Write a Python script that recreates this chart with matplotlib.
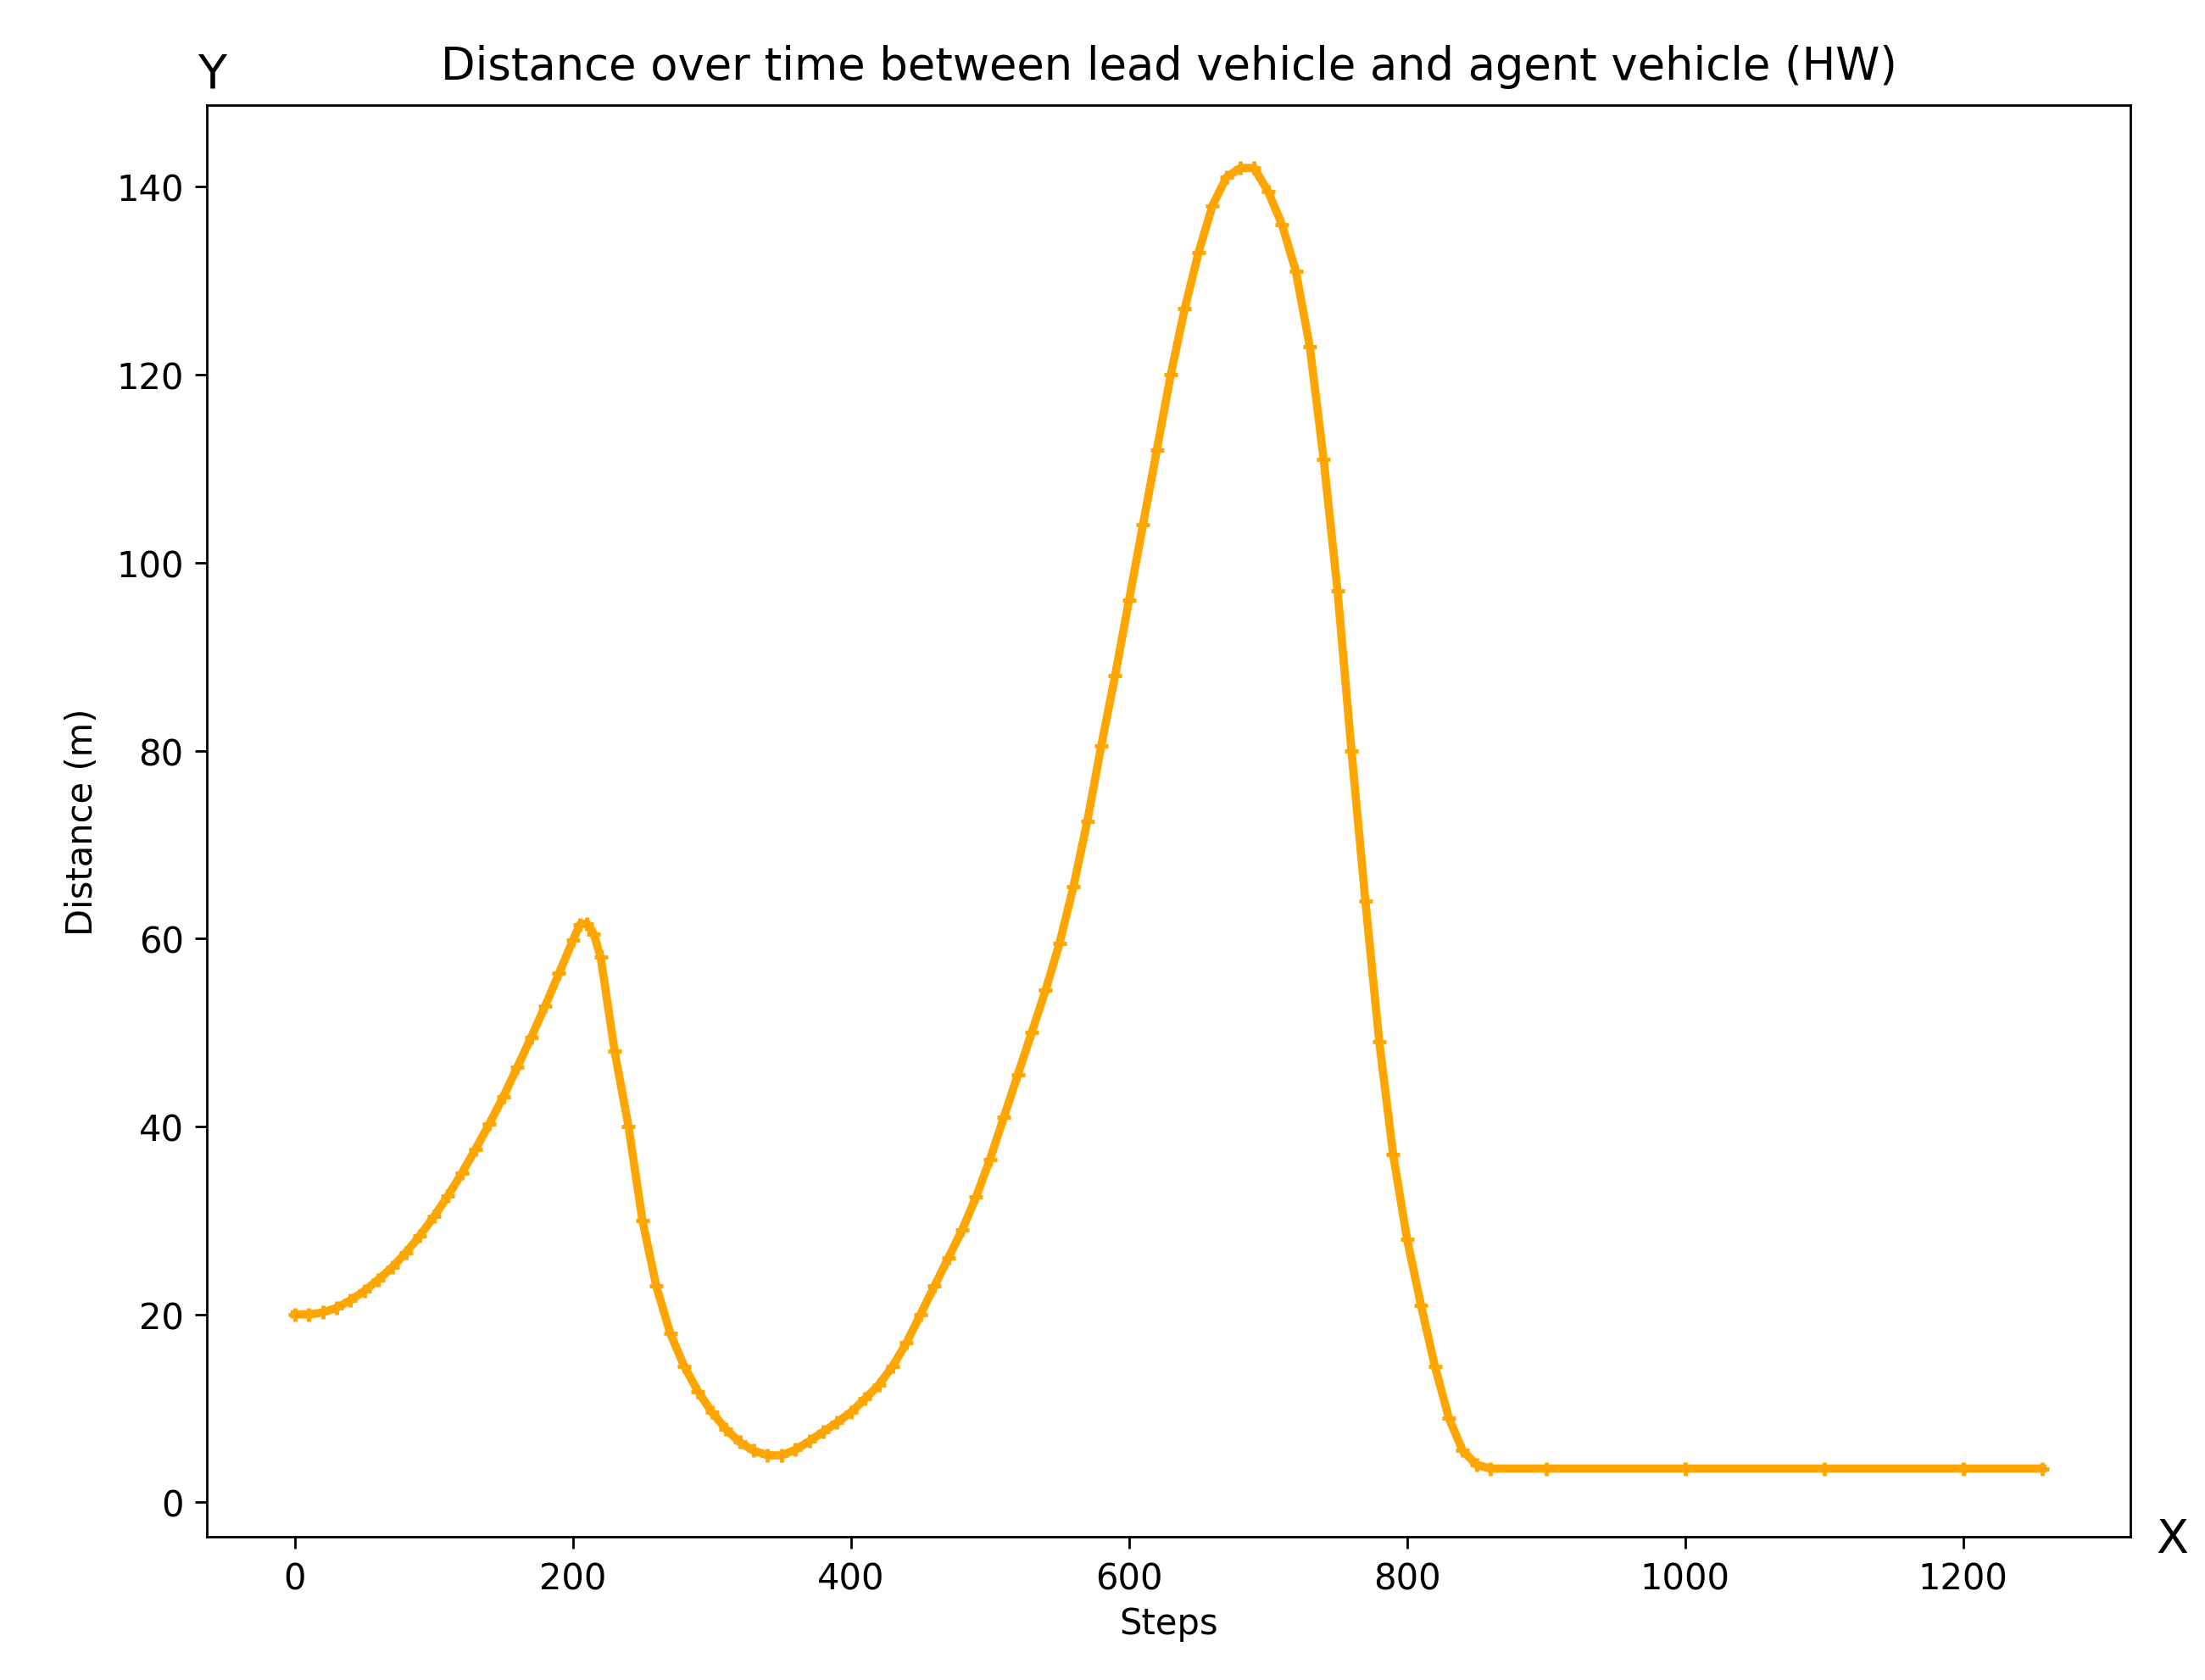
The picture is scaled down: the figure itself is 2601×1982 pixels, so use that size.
import matplotlib
matplotlib.use("Agg")
import matplotlib.pyplot as plt
import numpy as np

steps = [0,10,20,30,40,50,60,70,80,90,100,110,120,130,140,150,160,170,180,190,200,205,210,215,
         220,230,240,250,260,270,280,290,300,310,320,330,340,350,360,370,380,390,400,410,420,430,440,
         450,460,470,480,490,500,510,520,530,540,550,560,570,580,590,600,610,620,630,640,650,660,670,680,690,
         700,710,720,730,740,750,760,770,780,790,800,810,820,830,840,850,860,900,1000,1100,1200,1257]
distance = [20,20,20.2,20.7,21.5,22.5,23.7,25,26.6,28.4,30.4,32.6,35,37.6,40.3,43.2,46.3,49.5,52.8,56.3,59.8,61.5,61.6,60.5,
            58,48,40,30,23,18,14.5,11.8,9.6,7.8,6.4,5.5,5,5,5.6,6.5,7.5,8.5,9.6,11,12.5,14.5,17,
            20,23,26,29,32.5,36.5,41,45.5,50,54.5,59.5,65.5,72.5,80.5,88,96,104,112,120,127,133,138,141,142,142,
            139.5,136,131,123,111,97,80,64,49,37,28,21,14.5,9,5.5,4,3.6,3.6,3.6,3.6,3.6,3.6]

fig = plt.figure(figsize=(26.01, 19.83), dpi=100)
ax = fig.add_axes([0.094, 0.085, 0.872, 0.852])
ax.plot(steps, distance, color='orange', lw=7, marker='+', markersize=12, mew=3.5)
ax.set_xlim(-63, 1320)
ax.set_ylim(-3.7, 148.7)
ax.set_xticks([0,200,400,600,800,1000,1200])
ax.set_yticks([0,20,40,60,80,100,120,140])
ax.tick_params(labelsize=30, length=10, width=2, pad=10)
for s in ax.spines.values():
    s.set_linewidth(2)
ax.set_xlabel("Steps", fontsize=30, labelpad=8)
ax.set_ylabel("Distance (m)", fontsize=30, labelpad=14)
ax.set_title("Distance over time between lead vehicle and agent vehicle (HW)", fontsize=38, pad=22)
fig.text(0.096, 0.948, "Y", fontsize=40, ha='center')
fig.text(0.985, 0.076, "X", fontsize=40, ha='center')
fig.savefig("out.png", dpi=100)
